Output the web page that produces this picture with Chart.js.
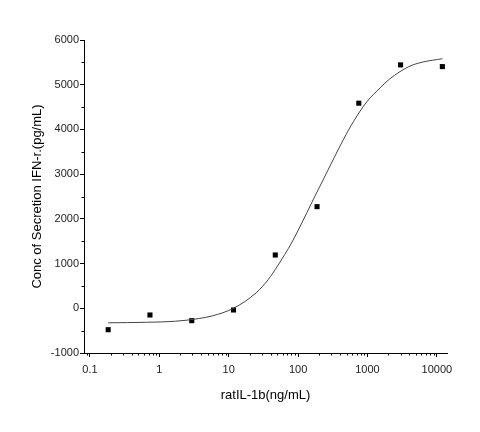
<!DOCTYPE html>
<html>
<head>
<meta charset="utf-8">
<script src="https://cdn.jsdelivr.net/npm/chart.js@4.4.1/dist/chart.umd.min.js"></script>
<style>
  body { margin: 0; background: #fff; }
  #wrap { width: 480px; height: 432px; }
</style>
</head>
<body>
<div id="wrap"><canvas id="chart"></canvas></div>
<script>
// measured points (4-fold dilution series)
const doseValues = [0.183, 0.732, 2.93, 11.72, 46.9, 187.5, 750, 3000, 12000];
const secretionValues = [-479, -150, -277, -38, 1192, 2273, 4587, 5443, 5405];

// fitted curve
const fitX = [0.183, 0.65, 1.7, 3.7, 5.8, 11.7, 25, 37, 50.7, 81.7, 107.6, 167, 233, 324, 452, 630, 980, 1524, 2056, 3945, 6110, 12000];
const fitY = [-325, -313, -290, -230, -170, 0, 350, 640, 950, 1480, 1840, 2445, 2893, 3340, 3780, 4180, 4620, 4930, 5120, 5405, 5503, 5580];

// axis ticks
const xTickValues = [0.1, 1, 10, 100, 1000, 10000];
const xTickLabels = ['0.1', '1', '10', '100', '1000', '10000'];
const xMinorSteps = [2, 3, 4, 5, 6, 7, 8, 9];
const yMinorValues = [-500, 500, 1500, 2500, 3500, 4500, 5500];

const FONT = 'Arial, "Liberation Sans", sans-serif';

// short minor tick marks drawn along both axes
const minorTicks = {
    id: 'minorTicks',
    afterDraw(chart) {
        const ctx = chart.ctx;
        const xs = chart.scales.x, ys = chart.scales.y;
        const xMinor = [0.09];
        xTickValues.slice(0, -1).forEach(d => xMinorSteps.forEach(m => xMinor.push(d * m)));
        ctx.save();
        ctx.strokeStyle = '#000';
        ctx.lineWidth = 1;
        ctx.beginPath();
        xMinor.forEach(v => {
            const px = Math.round(xs.getPixelForValue(v)) + 0.5;
            ctx.moveTo(px, xs.top);
            ctx.lineTo(px, xs.top + 2.5);
        });
        yMinorValues.forEach(v => {
            const py = Math.round(ys.getPixelForValue(v)) + 0.5;
            ctx.moveTo(ys.right, py);
            ctx.lineTo(ys.right - 2.5, py);
        });
        ctx.stroke();
        ctx.restore();
    }
};

new Chart(document.getElementById('chart'), {
    type: 'scatter',
    data: {
        datasets: [{
            label: 'Fit',
            data: fitX.map((x, i) => ({ x: x, y: fitY[i] })),
            showLine: true,
            borderColor: '#444',
            borderWidth: 1,
            pointRadius: 0,
            cubicInterpolationMode: 'monotone'
        }, {
            label: 'Measured',
            data: doseValues.map((x, i) => ({ x: x, y: secretionValues[i] })),
            pointStyle: 'rect',
            pointRadius: 3.6,
            pointBorderWidth: 0,
            backgroundColor: '#000',
            borderColor: '#000'
        }]
    },
    options: {
        responsive: true,
        maintainAspectRatio: false,
        animation: false,
        layout: {
            padding: { top: 40, right: 33, bottom: 0, left: 0 }
        },
        plugins: {
            legend: { display: false },
            tooltip: { enabled: false }
        },
        scales: {
            x: {
                type: 'logarithmic',
                min: 0.082,
                max: 14000,
                afterFit: function (scale) { scale.height = 79; },
                afterBuildTicks: function (scale) {
                    scale.ticks = xTickValues.map(v => ({ value: v }));
                },
                grid: {
                    drawOnChartArea: false,
                    tickLength: 4,
                    tickColor: '#000'
                },
                border: { color: '#000', width: 1 },
                ticks: {
                    autoSkip: false,
                    maxRotation: 0,
                    padding: 6,
                    color: '#222',
                    font: { family: FONT, size: 11 },
                    callback: function (value) {
                        const i = xTickValues.indexOf(value);
                        return i >= 0 ? xTickLabels[i] : '';
                    }
                },
                title: {
                    display: true,
                    text: 'ratIL-1b(ng/mL)',
                    color: '#000',
                    font: { family: FONT, size: 13 },
                    padding: { top: 0, bottom: 29 }
                }
            },
            y: {
                min: -1000,
                max: 6000,
                afterFit: function (scale) { scale.width = 84; },
                grid: {
                    drawOnChartArea: false,
                    tickLength: 4,
                    tickColor: '#000'
                },
                border: { color: '#000', width: 1 },
                ticks: {
                    stepSize: 1000,
                    padding: 1,
                    color: '#222',
                    font: { family: FONT, size: 11 },
                    callback: function (value) { return String(value); }
                },
                title: {
                    display: true,
                    text: 'Conc of Secretion IFN-r.(pg/mL)',
                    color: '#000',
                    font: { family: FONT, size: 13 },
                    padding: { top: 30, bottom: 0 }
                }
            }
        }
    },
    plugins: [minorTicks]
});
</script>
</body>
</html>
